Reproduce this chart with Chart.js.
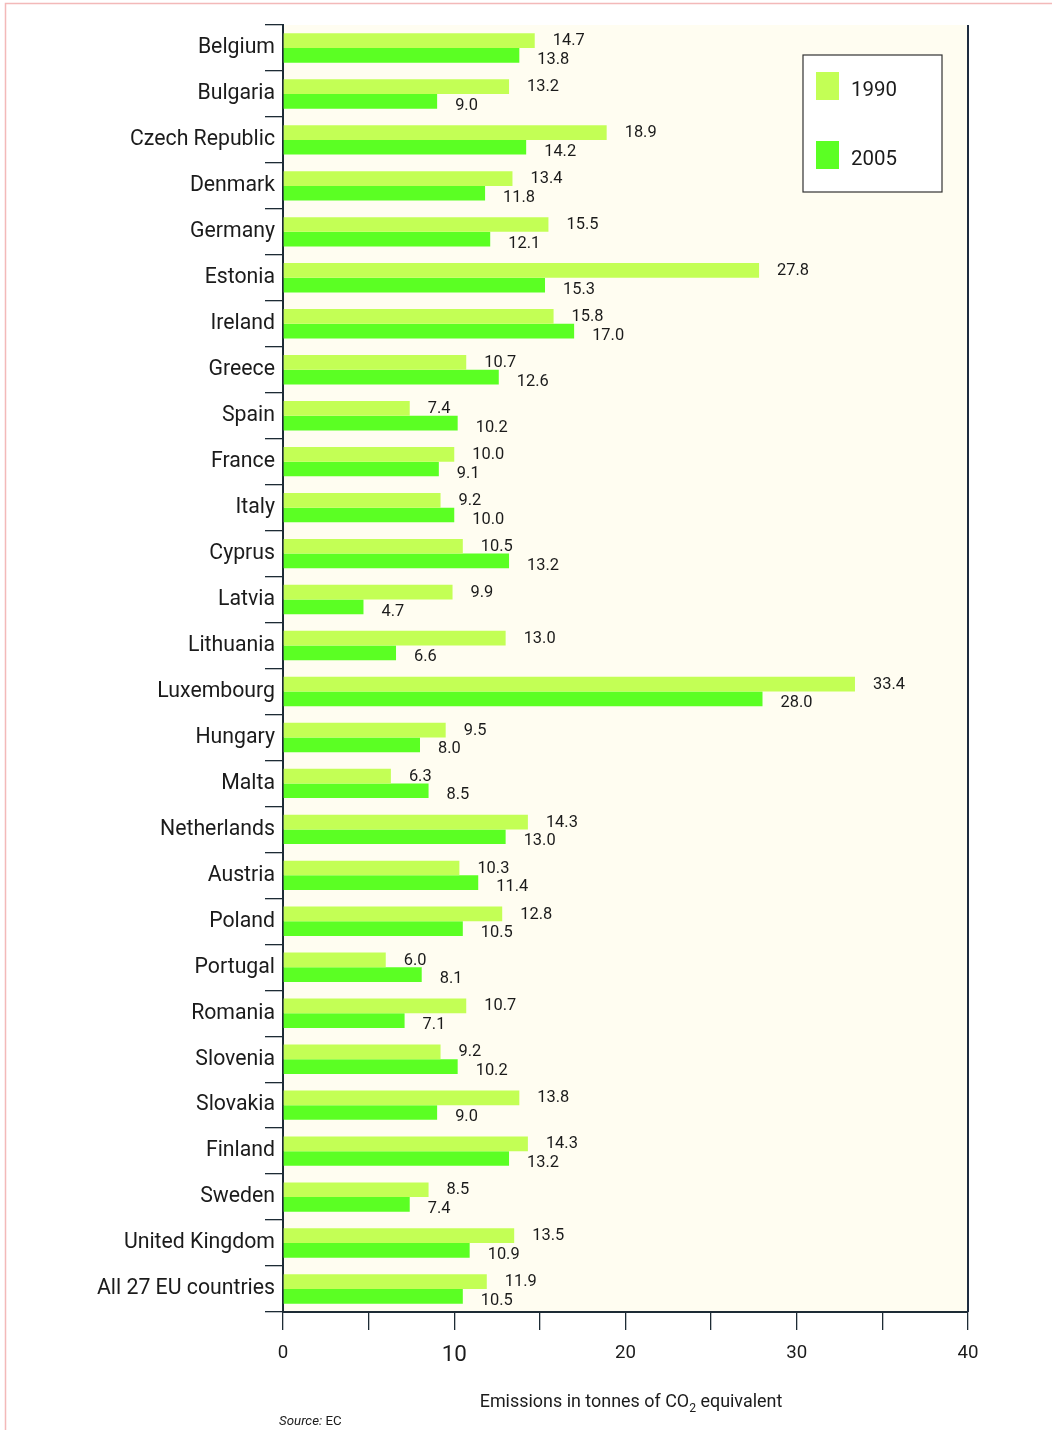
<!DOCTYPE html>
<html>
<head>
<meta charset="utf-8">
<script src="https://cdn.jsdelivr.net/npm/chart.js@4.4.1/dist/chart.umd.min.js"></script>
<style>
  html, body { margin: 0; padding: 0; background: #fff; }
  #wrap { width: 1052px; height: 1430px; position: relative; }
</style>
</head>
<body>
<div id="wrap"><canvas id="chart"></canvas></div>
<script>
// Data
const countries = [
    'Belgium', 'Bulgaria', 'Czech Republic', 'Denmark', 'Germany', 'Estonia', 'Ireland',
    'Greece', 'Spain', 'France', 'Italy', 'Cyprus', 'Latvia', 'Lithuania', 'Luxembourg',
    'Hungary', 'Malta', 'Netherlands', 'Austria', 'Poland', 'Portugal', 'Romania',
    'Slovenia', 'Slovakia', 'Finland', 'Sweden', 'United Kingdom', 'All 27 EU countries'
];
const values1990 = [
    14.7, 13.2, 18.9, 13.4, 15.5, 27.8, 15.8, 10.7, 7.4, 10.0, 9.2, 10.5, 9.9, 13.0,
    33.4, 9.5, 6.3, 14.3, 10.3, 12.8, 6.0, 10.7, 9.2, 13.8, 14.3, 8.5, 13.5, 11.9
];
const values2005 = [
    13.8, 9.0, 14.2, 11.8, 12.1, 15.3, 17.0, 12.6, 10.2, 9.1, 10.0, 13.2, 4.7, 6.6,
    28.0, 8.0, 8.5, 13.0, 11.4, 10.5, 8.1, 7.1, 10.2, 9.0, 13.2, 7.4, 10.9, 10.5
];
const xTickLabels = [0, 10, 20, 30, 40];

const FONT = "Roboto, 'Open Sans', sans-serif";
const TEXT = '#1b1b1b';
const DARK = '#1d2b35';

// the original uses a condensed face, so size the text to the widths in the picture
const measure = document.createElement('canvas').getContext('2d');
function fitSize(text, width, style = '') {
    measure.font = `${style} 100px ${FONT}`;
    return 100 * width / measure.measureText(text).width;
}
const catSize = fitSize('Czech Republic', 145);
const valSize = fitSize('14.7', 32);
const tickSize = fitSize('20', 21);
const titleSize = fitSize('Emissions in tonnes of CO2 equivalent', 306);
const legendSize = fitSize('1990', 46);
const sourceSize = fitSize('Source: EC', 64);

// Background, page frame and right border of the plot
const backdrop = {
    id: 'backdrop',
    beforeDraw(chart) {
        const {ctx, chartArea: a, width, height} = chart;
        ctx.save();
        ctx.fillStyle = '#fff';
        ctx.fillRect(0, 0, width, height);
        ctx.strokeStyle = '#f3b9b9';
        ctx.lineWidth = 1.5;
        ctx.beginPath();
        ctx.moveTo(5.5, height);
        ctx.lineTo(5.5, 3.5);
        ctx.lineTo(width, 3.5);
        ctx.stroke();
        ctx.fillStyle = '#fffdf1';
        ctx.fillRect(a.left, a.top, a.right - a.left, a.bottom - a.top);
        ctx.restore();
    },
    afterDraw(chart) {
        const {ctx, chartArea: a} = chart;
        ctx.save();
        ctx.strokeStyle = '#1e2c40';
        ctx.lineWidth = 2;
        ctx.beginPath();
        ctx.moveTo(a.right, a.top);
        ctx.lineTo(a.right, a.bottom);
        ctx.stroke();
        ctx.restore();
    }
};

// Value labels next to the bar ends
const valueLabels = {
    id: 'valueLabels',
    afterDatasetsDraw(chart) {
        const ctx = chart.ctx;
        ctx.save();
        ctx.font = `${valSize}px ${FONT}`;
        ctx.fillStyle = TEXT;
        ctx.textBaseline = 'middle';
        chart.data.datasets.forEach((ds, i) => {
            const meta = chart.getDatasetMeta(i);
            const dy = i === 0 ? 0.5 : 4.5;
            meta.data.forEach((bar, j) => {
                ctx.fillText(ds.data[j].toFixed(1), bar.x + 18, bar.y + dy);
            });
        });
        ctx.restore();
    }
};

// Boxed legend in the top right corner, axis title and source
const extras = {
    id: 'extras',
    afterDraw(chart) {
        const ctx = chart.ctx;
        ctx.save();

        // legend
        ctx.fillStyle = '#fff';
        ctx.fillRect(803, 55, 139, 137);
        ctx.strokeStyle = '#333';
        ctx.lineWidth = 1.2;
        ctx.strokeRect(803, 55, 139, 137);
        ctx.font = `${legendSize}px ${FONT}`;
        ctx.textBaseline = 'alphabetic';
        chart.data.datasets.forEach((ds, i) => {
            const y = 72 + i * 69;
            ctx.fillStyle = ds.backgroundColor;
            ctx.fillRect(816, y, 23, 28);
            ctx.fillStyle = TEXT;
            ctx.fillText(ds.label, 851, y + 24);
        });

        // axis title with subscript
        const big = `${titleSize}px ${FONT}`, small = `${titleSize * 0.68}px ${FONT}`;
        const p1 = 'Emissions in tonnes of CO', p2 = '2', p3 = ' equivalent';
        ctx.font = big;
        const w1 = ctx.measureText(p1).width, w3 = ctx.measureText(p3).width;
        ctx.font = small;
        const w2 = ctx.measureText(p2).width;
        let x = 631 - (w1 + w2 + w3) / 2;
        const base = 1407;
        ctx.fillStyle = TEXT;
        ctx.font = big;
        ctx.fillText(p1, x, base);
        x += w1;
        ctx.font = small;
        ctx.fillText(p2, x, base + 5);
        x += w2;
        ctx.font = big;
        ctx.fillText(p3, x, base);

        // source
        ctx.font = `italic ${sourceSize}px ${FONT}`;
        ctx.fillText('Source:', 279, 1425);
        const ws = ctx.measureText('Source:').width;
        ctx.font = `${sourceSize}px ${FONT}`;
        ctx.fillText(' EC', 279 + ws, 1425);

        ctx.restore();
    }
};

const chart = new Chart(document.getElementById('chart'), {
    type: 'bar',
    data: {
        labels: countries,
        datasets: [
            { label: '1990', data: values1990, backgroundColor: '#c3ff55' },
            { label: '2005', data: values2005, backgroundColor: '#5bff23' }
        ]
    },
    options: {
        indexAxis: 'y',
        responsive: true,
        maintainAspectRatio: false,
        animation: false,
        categoryPercentage: 0.64,
        barPercentage: 1.0,
        layout: { padding: { top: 25, right: 84, left: 0, bottom: 0 } },
        plugins: {
            legend: { display: false },
            tooltip: { enabled: false }
        },
        scales: {
            y: {
                offset: true,
                afterFit: (s) => { s.width = 283; },
                grid: { offset: true, drawOnChartArea: false, tickLength: 18, color: DARK, lineWidth: 1.3 },
                border: { display: true, color: DARK, width: 2 },
                ticks: { autoSkip: false, padding: -10, color: TEXT, font: { family: FONT, size: catSize } }
            },
            x: {
                min: 0,
                max: 40,
                afterFit: (s) => { s.height = 118; },
                grid: { drawOnChartArea: false, tickLength: 18, color: DARK, lineWidth: 1.3 },
                border: { display: true, color: DARK, width: 2 },
                ticks: {
                    stepSize: 5,
                    autoSkip: false,
                    maxRotation: 0,
                    padding: 12,
                    color: TEXT,
                    font: (c) => ({ family: FONT, size: c.tick && c.tick.value === 10 ? tickSize * 1.2 : tickSize }),
                    callback: (v) => xTickLabels.includes(v) ? String(v) : ''
                }
            }
        }
    },
    plugins: [backdrop, valueLabels, extras]
});
</script>
</body>
</html>
